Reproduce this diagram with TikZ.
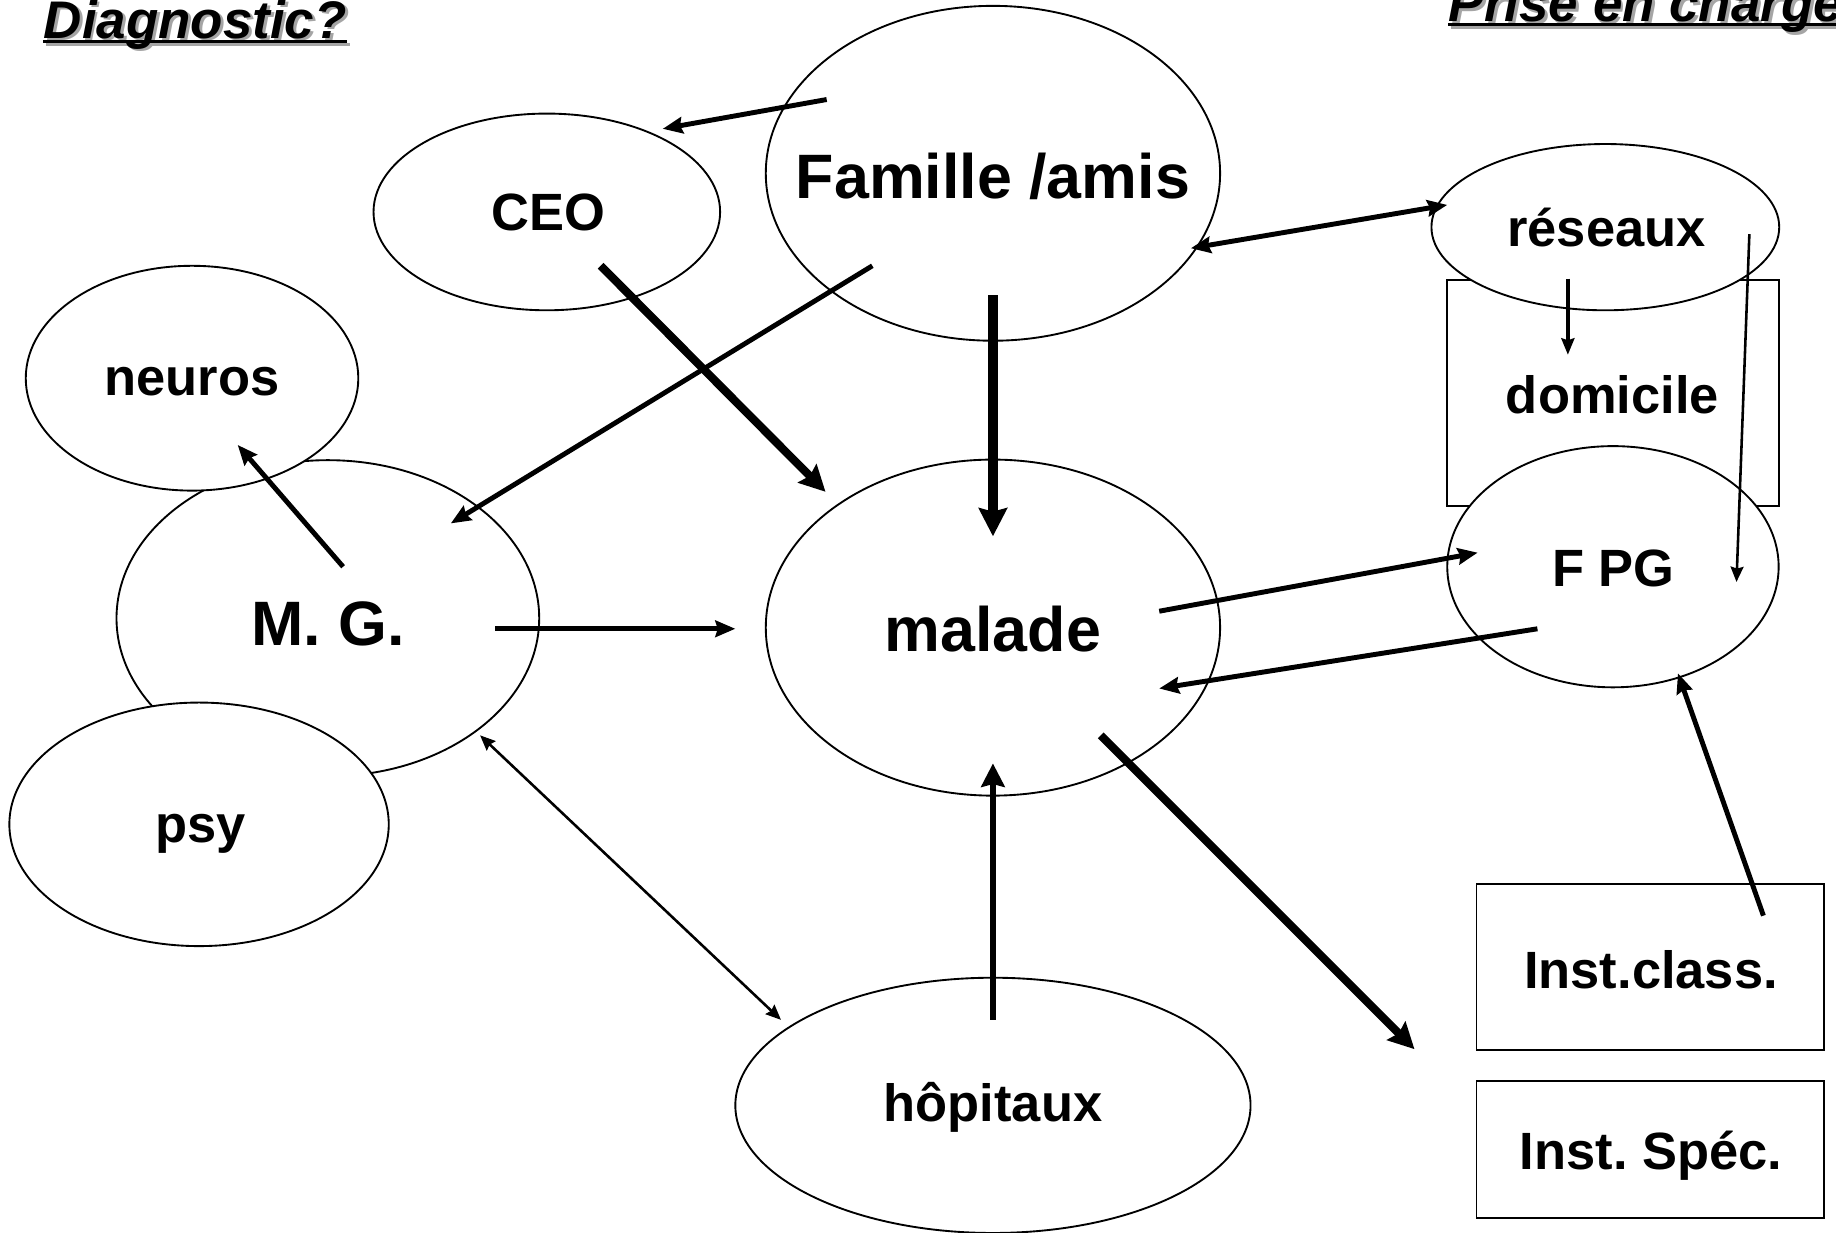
\documentclass[tikz,border=0pt]{standalone}
\usepackage{fontspec}
\setmainfont{Liberation Sans}
\frenchspacing
\usetikzlibrary{shapes.geometric,arrows.meta}
\definecolor{shadowgray}{RGB}{165,165,165}
\tikzset{
  ell/.style={ellipse, draw, line width=0.8pt, fill=white, inner sep=0pt},
  boxnode/.style={rectangle, draw, line width=0.8pt, fill=white, inner sep=0pt},
  lbl/.style={font=\bfseries\fontsize{22.4}{26}\selectfont, text height=16.1pt, text depth=0pt, inner sep=0pt},
  biglbl/.style={font=\bfseries\fontsize{26.8}{30}\selectfont, text height=19.3pt, text depth=0pt, inner sep=0pt},
  ttl/.style={font=\bfseries\itshape\fontsize{22.6}{26}\selectfont, inner sep=0pt, anchor=base west},
  ttlshadow/.style={ttl, text=shadowgray},
  thickarr/.style={line width=3.5pt, -{Stealth[length=11pt, width=11pt, inset=1.5pt]}},
  heavyarr/.style={line width=4.5pt, -{Stealth[length=12pt, width=12pt, inset=1.5pt]}},
  boldarr/.style={line width=2.8pt, -{Stealth[length=10pt, width=10pt, inset=1.2pt]}},
  medarr/.style={line width=2.1pt, -{Stealth[length=8.5pt, width=7pt, inset=1pt]}},
  medboth/.style={line width=2.1pt, {Stealth[length=8.5pt, width=7pt, inset=1pt]}-{Stealth[length=8.5pt, width=7pt, inset=1pt]}},
  smallarr/.style={line width=1.7pt, -{Stealth[length=7pt, width=5.5pt, inset=0.8pt]}},
  thinarr/.style={line width=1.1pt, -{Stealth[length=6.5pt, width=5.5pt, inset=0.8pt]}},
  thinboth/.style={line width=1.1pt, {Stealth[length=6.5pt, width=5.5pt, inset=0.8pt]}-{Stealth[length=6.5pt, width=5.5pt, inset=0.8pt]}},
}
\begin{document}
\begin{tikzpicture}[x=0.5pt, y=-0.5pt]
\useasboundingbox (0,0) rectangle (1568,1053);

% titles
\node[ttlshadow] (diags) at (39.5,35) {Diagnostic?};
\draw[shadowgray, line width=1.3pt] ([shift={(0,2.7)}]diags.base west) -- ([shift={(0,2.7)}]diags.base east);
\node[ttl] (diag) at (37,32.5) {Diagnostic?};
\draw[line width=1.3pt] ([shift={(0,2.7)}]diag.base west) -- ([shift={(0,2.7)}]diag.base east);

\node[ttlshadow] (prises) at (1239.5,21) {Prise en charge};
\draw[shadowgray, line width=1.3pt] ([shift={(0,2.7)}]prises.base west) -- ([shift={(0,2.7)}]prises.base east);
\node[ttl] (prise) at (1237,18.5) {Prise en charge};
\draw[line width=1.3pt] ([shift={(0,2.7)}]prise.base west) -- ([shift={(0,2.7)}]prise.base east);

% shapes
\node[boxnode, minimum width=141.5pt, minimum height=96.5pt] (dom) at (1377.5,335.5) {};
\node[ell, minimum width=148.5pt, minimum height=71pt] (res) at (1371,194) {};
\node[ell, minimum width=141.5pt, minimum height=103pt] (fpg) at (1377.5,484) {};
\node[ell, minimum width=148pt, minimum height=84pt] (ceo) at (467,181) {};
\node[ell, minimum width=194pt, minimum height=143pt] (fam) at (848,148) {};
\node[ell, minimum width=180.5pt, minimum height=135pt] (mg) at (280,528) {};
\node[ell, minimum width=142pt, minimum height=96pt] (neu) at (164,323) {};
\node[ell, minimum width=162pt, minimum height=104pt] (psy) at (170,704) {};
\node[ell, minimum width=194pt, minimum height=143.5pt] (mal) at (848,536) {};
\node[ell, minimum width=220pt, minimum height=109pt] (hop) at (848,944) {};
\node[boxnode, minimum width=148.5pt, minimum height=71pt] (icl) at (1409.5,826) {};
\node[boxnode, minimum width=148.5pt, minimum height=58.5pt] (isp) at (1409.5,981.5) {};

% texts
\node[lbl] (tceo) at (468,181) {CEO};
\node[biglbl] (tfam) at (848,150) {Famille /amis};
\node[lbl] (tres) at (1372,194) {réseaux};
\node[lbl] (tdom) at (1377,337) {domicile};
\node[lbl] (tneu) at (164,322) {neuros};
\node[biglbl] (tmg) at (280,532) {M. G.};
\node[biglbl] (tmal) at (848,537) {malade};
\node[lbl] (tfpg) at (1378,485) {F PG};
\node[lbl] (tpsy) at (171,703) {psy};
\node[lbl] (thop) at (848,942) {hôpitaux};
\node[lbl] (ticl) at (1410,828) {Inst.class.};
\node[lbl] (tisp) at (1410,983) {Inst. Spéc.};

% connectors
\draw[medarr] ([shift={(-142,-63)}]fam.center) -- ([shift={(99,-71)}]ceo.center);
\draw[thickarr] ([shift={(46,46)}]ceo.center) -- ([shift={(-143,-116)}]mal.center);
\draw[medarr] ([shift={(-103,79)}]fam.center) -- ([shift={(105,-81)}]mg.center);
\draw[heavyarr] ([shift={(0,104)}]fam.center) -- ([shift={(0,-78)}]mal.center);
\draw[medboth] ([shift={(169,64)}]fam.center) -- ([shift={(-135,-19)}]res.center);
\draw[smallarr] ([shift={(-32,44)}]res.center) -- ([shift={(-38.5,-32.5)}]dom.center);
\draw[thinarr] ([shift={(123,6)}]res.center) -- ([shift={(105.5,13)}]fpg.center);
\draw[medarr] ([shift={(13,-44)}]mg.center) -- ([shift={(39,57)}]neu.center);
\draw[medarr] ([shift={(143,9)}]mg.center) -- ([shift={(-220,1)}]mal.center);
\draw[medarr] ([shift={(142,-14)}]mal.center) -- ([shift={(-115.5,-12)}]fpg.center);
\draw[medarr] ([shift={(-64.5,53)}]fpg.center) -- ([shift={(142,52)}]mal.center);
\draw[medarr] ([shift={(96.5,-44)}]icl.center) -- ([shift={(55.5,91)}]fpg.center);
\draw[thickarr] ([shift={(92,92)}]mal.center) -- ([shift={(-201.5,70)}]icl.center);
\draw[boldarr] ([shift={(0,-73)}]hop.center) -- ([shift={(0,116)}]mal.center);
\draw[thinboth] ([shift={(130,100)}]mg.center) -- ([shift={(-181,-73)}]hop.center);
\end{tikzpicture}
\end{document}
